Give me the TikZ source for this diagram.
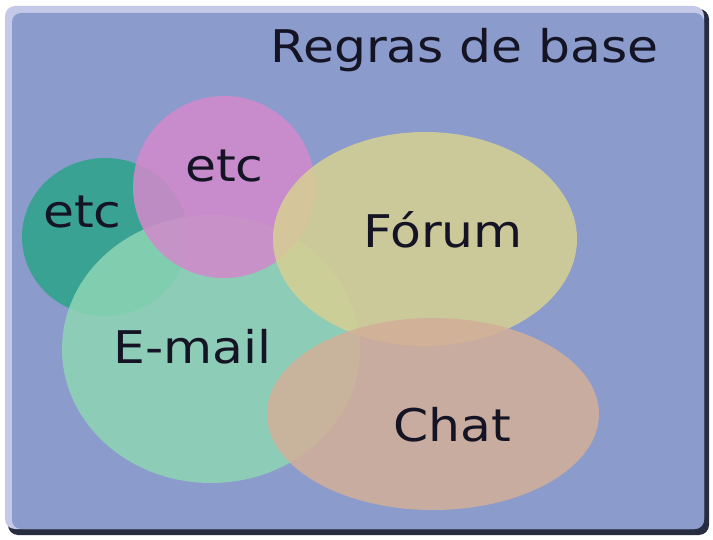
\documentclass[tikz,border=0pt]{standalone}
\usepackage{fontspec}
\usetikzlibrary{shapes.geometric}
\newfontfamily\lblfont[FakeStretch=1.12]{DejaVu Sans}
\definecolor{bgblue}{RGB}{139,155,204}
\definecolor{rim}{RGB}{196,201,232}
\definecolor{shadowc}{RGB}{40,44,64}
\definecolor{tealc}{RGB}{44,164,138}
\definecolor{pinkc}{RGB}{211,137,203}
\definecolor{greenc}{RGB}{142,213,180}
\definecolor{yellowc}{RGB}{215,208,146}
\definecolor{chatc}{RGB}{211,175,152}
\definecolor{txt}{RGB}{20,20,36}
\tikzset{
  blob/.style={ellipse, draw=none, fill opacity=0.85, inner sep=0pt},
  lbl/.style={anchor=base west, inner sep=0pt, text=txt, font=\lblfont\fontsize{45}{54}\selectfont}
}
\begin{document}
\begin{tikzpicture}[x=1pt,y=-1pt]
\useasboundingbox (0,0) rectangle (713,540);
% frame
\fill[shadowc, rounded corners=10pt] (8,9) rectangle (709,535);
\fill[rim, rounded corners=10pt] (5,6) rectangle (704,529);
\fill[bgblue, rounded corners=9pt] (12,13) rectangle (704,529);
% ellipses
\node[blob, fill=tealc, minimum width=166pt, minimum height=158pt] (etcA) at (105,237) {};
\node[blob, fill=greenc, minimum width=298pt, minimum height=268pt] (email) at (211,349) {};
\node[blob, fill=pinkc, minimum width=182pt, minimum height=182pt] (etcB) at (224,187) {};
\node[blob, fill=yellowc, minimum width=304pt, minimum height=214pt] (forum) at (425,239) {};
\node[blob, fill=chatc, minimum width=332pt, minimum height=192pt] (chat) at (433,414) {};
% labels
\node[lbl] (title) at (270,63) {Regras de base};
\node[lbl] (tA) at (43,228) {etc};
\node[lbl] (tB) at (185,182) {etc};
\node[lbl] (tF) at (363,248) {Fórum};
\node[lbl] (tE) at (113,363) {E-mail};
\node[lbl] (tC) at (393,442) {Chat};
\end{tikzpicture}
\end{document}
